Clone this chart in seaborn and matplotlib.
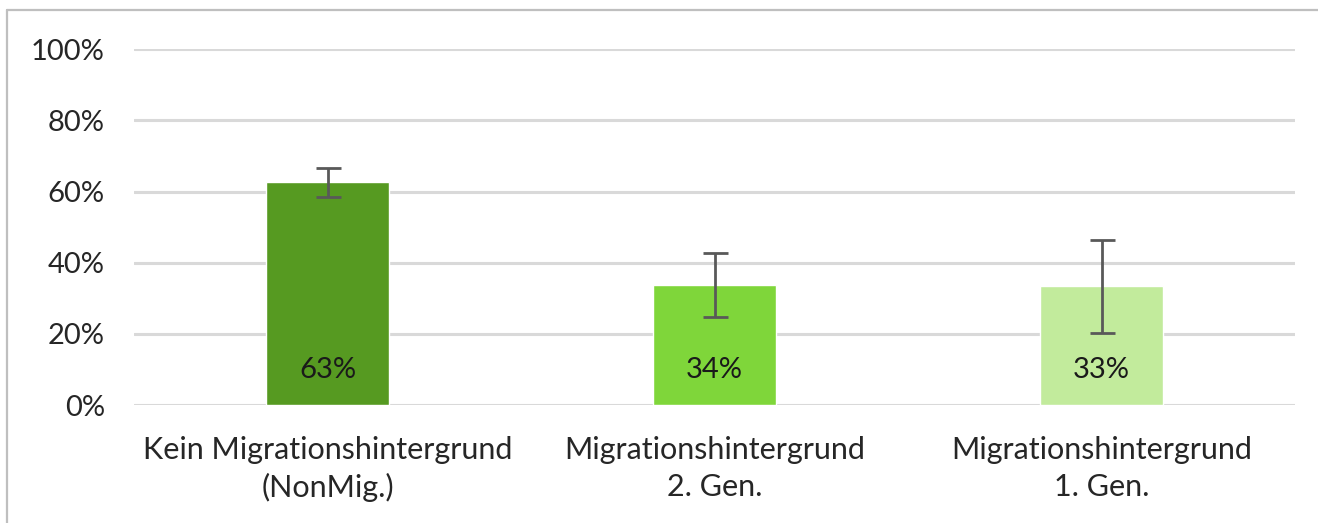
import matplotlib
matplotlib.use("Agg")
import matplotlib.pyplot as plt
import seaborn as sns
import pandas as pd
import numpy as np
from matplotlib.lines import Line2D

categories = ["Kein Migrationshintergrund\n(NonMig.)",
              "Migrationshintergrund\n2. Gen.",
              "Migrationshintergrund\n1. Gen."]
values = [62.8, 33.7, 33.4]
err_low = [58.6, 24.8, 20.2]
err_high = [66.5, 42.8, 46.4]
labels = ["63%", "34%", "33%"]
colors = ["#569A21", "#7FD63A", "#C2EB9C"]
yticks = [0, 20, 40, 60, 80, 100]
ytick_labels = ["0%", "20%", "40%", "60%", "80%", "100%"]

sns.set_theme(style="white")
plt.rcParams["font.family"] = ["Lato", "DejaVu Sans"]

df = pd.DataFrame({"cat": categories, "val": values})

fig = plt.figure(figsize=(13.18, 5.23), dpi=100)
ax = fig.add_axes([134/1318, 1-405/523, (1295-134)/1318, (405-49.3)/523])

sns.barplot(data=df, x="cat", y="val", hue="cat", palette=colors,
            width=0.318, legend=False, ax=ax, saturation=1)

x = np.arange(len(categories))
vals = np.array(values)
yerr = np.vstack([vals - np.array(err_low), np.array(err_high) - vals])
ax.errorbar(x, vals, yerr=yerr, fmt="none", ecolor="#595959",
            elinewidth=2, capsize=9, capthick=2, zorder=5)

for xi, lab in zip(x, labels):
    ax.text(xi, 9.8, lab, ha="center", va="center", fontsize=21,
            color="#1a1a1a", zorder=6)

ax.set_ylim(0, 100)
ax.set_xlim(-0.5, 2.5)
ax.set_yticks(yticks)
ax.set_yticklabels(ytick_labels)
ax.yaxis.grid(True, color="#D9D9D9", linewidth=2.2)
ax.set_axisbelow(True)
for s in ax.spines.values():
    s.set_visible(False)
ax.tick_params(axis="y", length=0, pad=21, labelsize=21, labelcolor="#262626")
ax.tick_params(axis="x", length=0, pad=22, labelsize=22, labelcolor="#262626")
for t in ax.get_xticklabels():
    t.set_linespacing(1.4)
ax.set_xlabel("")
ax.set_ylabel("")

# outer chart frame
fig.add_artist(Line2D([7/1318, 7/1318], [0, 1-9.5/523], transform=fig.transFigure,
                      color="#BFBFBF", linewidth=1.6))
fig.add_artist(Line2D([7/1318, 1], [1-9.5/523, 1-9.5/523], transform=fig.transFigure,
                      color="#BFBFBF", linewidth=1.6))

fig.savefig("out.png", dpi=100)
